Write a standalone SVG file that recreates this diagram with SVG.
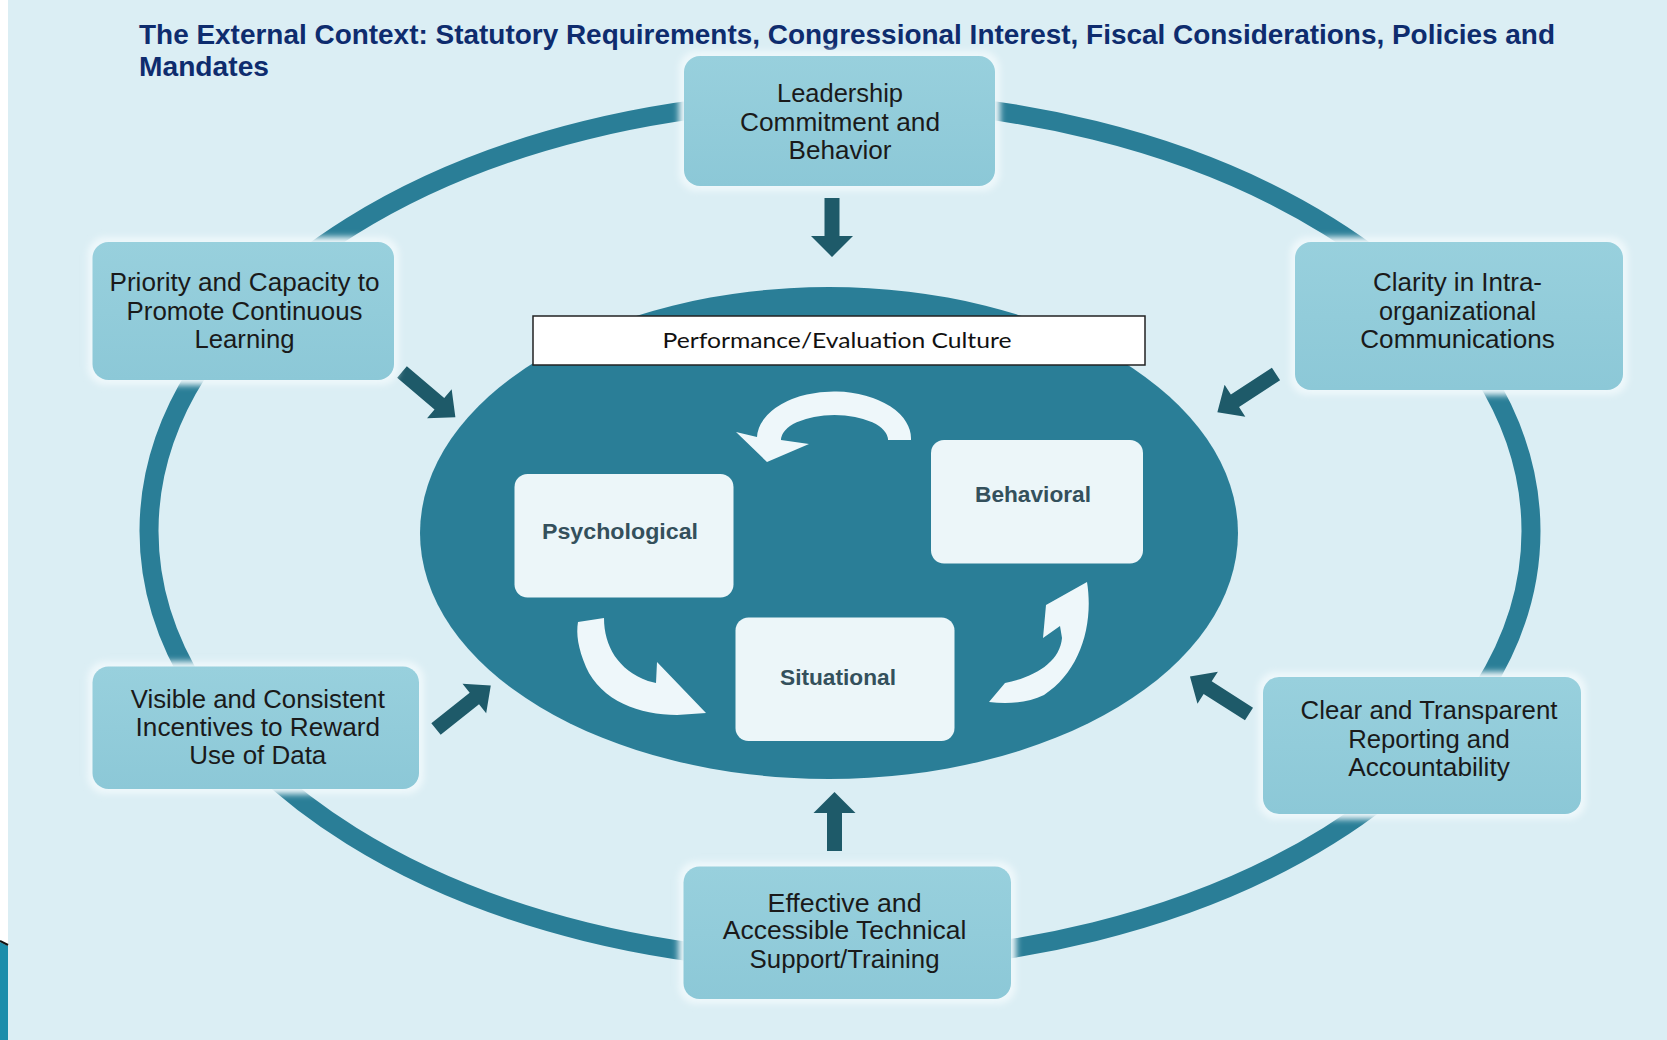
<svg xmlns="http://www.w3.org/2000/svg" width="1667" height="1040" viewBox="0 0 1667 1040">
  <style>
    .title { font-family: "Liberation Sans", Arial, sans-serif; font-weight: bold; font-size: 27px; fill: #0e2c6e; }
    .lbl { font-family: "Liberation Sans", Arial, sans-serif; font-size: 25px; fill: #1a1a1a; text-anchor: middle; }
    .inner { font-family: "Liberation Sans", Arial, sans-serif; font-weight: bold; font-size: 22px; fill: #34505c; text-anchor: middle; }
    .culture { font-family: Lato, "Open Sans", sans-serif; font-size: 22px; fill: #111; text-anchor: middle; }
    .box { fill: url(#boxfill); }
    .halo { fill: #eef8fb; filter: url(#soft); }
    .ibox { fill: #ecf6f9; }
    .blk { fill: #1e5a69; }
    .curl { fill: #eef7fa; }
  </style>
  <defs>
    <linearGradient id="boxfill" x1="0" y1="0" x2="0" y2="1">
      <stop offset="0" stop-color="#98d0dd"/>
      <stop offset="1" stop-color="#8cc8d7"/>
    </linearGradient>
    <filter id="soft" x="-10%" y="-10%" width="120%" height="120%">
      <feGaussianBlur stdDeviation="3"/>
    </filter>
    <!-- straight block arrow pointing along +x, vertical version -->
    <path id="arrV" d="M0,-7.5 H38 V-21 L59,0 L38,21 V7.5 H0 Z"/>
    <!-- diagonal block arrow pointing along +x -->
    <path id="arrD" d="M0,-7.5 H49 V-19 L70,0 L49,19 V7.5 H0 Z"/>
  </defs>

  <!-- page -->
  <rect x="0" y="0" width="1667" height="1040" fill="#ffffff"/>
  <rect x="8" y="0" width="1659" height="1040" fill="#dbeef4"/>
  <polygon points="0,942 8,946 8,1040 0,1040" fill="#1b8dab"/>
  <line x1="0" y1="941" x2="8" y2="945" stroke="#111" stroke-width="2"/>

  <!-- title -->
  <text class="title" x="139" y="44" textLength="1416" lengthAdjust="spacingAndGlyphs">The External Context: Statutory Requirements, Congressional Interest, Fiscal Considerations, Policies and</text>
  <text class="title" x="139" y="76" textLength="130" lengthAdjust="spacingAndGlyphs">Mandates</text>

  <!-- outer ring and inner field -->
  <ellipse cx="840" cy="531" rx="691" ry="431" fill="none" stroke="#2a7e97" stroke-width="19"/>
  <ellipse cx="829" cy="533" rx="409" ry="246" fill="#2a7e97"/>

  <g id="connectors">
    <use href="#arrV" class="blk" transform="translate(832,198) rotate(90)"/>
    <use href="#arrV" class="blk" transform="translate(834.5,851) rotate(-90)"/>
    <use href="#arrD" class="blk" transform="translate(402,372) rotate(40.3)"/>
    <use href="#arrD" class="blk" transform="translate(1276,374) rotate(146.9)"/>
    <use href="#arrD" class="blk" transform="translate(436,729) rotate(-38.5)"/>
    <use href="#arrD" class="blk" transform="translate(1249,714) rotate(-147.5)"/>
    <!-- cycle arrows inside the culture field -->
    <path class="curl" d="M911,440 A77,47 0 0 0 757,437 L736,432 L767,462 L809,444 L781,440 A53.5,25 0 0 1 888,440 Z"/>
    <path class="curl" d="M578,622 L604,618 C604,646 618,670 648,681 L656,683 L657,662 L706,713 L677,715 C640,715 601,701 586,667 C578,648 576,634 578,622 Z"/>
    <path class="curl" d="M989,702 L1005,683 C1035,677 1060,662 1062,638 L1060,626 L1043,638 L1046,605 L1087,582 C1094,625 1080,672 1044,695 C1028,703 1008,704 989,702 Z"/>
  </g>

  <g id="culture">
    <rect x="533" y="316" width="612" height="49" fill="#ffffff" stroke="#222" stroke-width="1.5"/>
    <text class="culture" x="837" y="348" textLength="349" lengthAdjust="spacingAndGlyphs">Performance/Evaluation Culture</text>
  </g>

  <g id="psychological">
    <rect class="ibox" x="514.5" y="474" width="219" height="123.5" rx="13"/>
    <text class="inner" x="620" y="538.5" textLength="156" lengthAdjust="spacingAndGlyphs">Psychological</text>
  </g>
  <g id="behavioral">
    <rect class="ibox" x="931" y="440" width="212" height="123.5" rx="13"/>
    <text class="inner" x="1033" y="502" textLength="116" lengthAdjust="spacingAndGlyphs">Behavioral</text>
  </g>
  <g id="situational">
    <rect class="ibox" x="735.5" y="617.5" width="219" height="123.5" rx="13"/>
    <text class="inner" x="838" y="685" textLength="116" lengthAdjust="spacingAndGlyphs">Situational</text>
  </g>

  <g id="leadership">
    <rect class="halo" x="679" y="51" width="321" height="140" rx="18"/>
    <rect class="box" x="684" y="56" width="311" height="130" rx="16"/>
    <text class="lbl" x="840" y="102" textLength="126" lengthAdjust="spacingAndGlyphs">Leadership</text>
    <text class="lbl" x="840" y="130.5" textLength="200" lengthAdjust="spacingAndGlyphs">Commitment and</text>
    <text class="lbl" x="840" y="159" textLength="103" lengthAdjust="spacingAndGlyphs">Behavior</text>
  </g>

  <g id="priority">
    <rect class="halo" x="87.5" y="237" width="311.5" height="148" rx="18"/>
    <rect class="box" x="92.5" y="242" width="301.5" height="138" rx="16"/>
    <text class="lbl" x="244.5" y="291" textLength="270" lengthAdjust="spacingAndGlyphs">Priority and Capacity to</text>
    <text class="lbl" x="244.5" y="319.5" textLength="236" lengthAdjust="spacingAndGlyphs">Promote Continuous</text>
    <text class="lbl" x="244.5" y="348" textLength="100" lengthAdjust="spacingAndGlyphs">Learning</text>
  </g>

  <g id="clarity">
    <rect class="halo" x="1290" y="237" width="338" height="158" rx="18"/>
    <rect class="box" x="1295" y="242" width="328" height="148" rx="16"/>
    <text class="lbl" x="1457.5" y="291" textLength="169" lengthAdjust="spacingAndGlyphs">Clarity in Intra-</text>
    <text class="lbl" x="1457.5" y="319.5" textLength="157" lengthAdjust="spacingAndGlyphs">organizational</text>
    <text class="lbl" x="1457.5" y="348" textLength="194.5" lengthAdjust="spacingAndGlyphs">Communications</text>
  </g>

  <g id="incentives">
    <rect class="halo" x="87.5" y="661.5" width="336.5" height="132.5" rx="18"/>
    <rect class="box" x="92.5" y="666.5" width="326.5" height="122.5" rx="16"/>
    <text class="lbl" x="257.8" y="707.5" textLength="254" lengthAdjust="spacingAndGlyphs">Visible and Consistent</text>
    <text class="lbl" x="257.8" y="736" textLength="244.5" lengthAdjust="spacingAndGlyphs">Incentives to Reward</text>
    <text class="lbl" x="257.8" y="764" textLength="137" lengthAdjust="spacingAndGlyphs">Use of Data</text>
  </g>

  <g id="reporting">
    <rect class="halo" x="1258" y="672" width="328" height="147" rx="18"/>
    <rect class="box" x="1263" y="677" width="318" height="137" rx="16"/>
    <text class="lbl" x="1429" y="719" textLength="257" lengthAdjust="spacingAndGlyphs">Clear and Transparent</text>
    <text class="lbl" x="1429" y="748" textLength="161.6" lengthAdjust="spacingAndGlyphs">Reporting and</text>
    <text class="lbl" x="1429" y="775.5" textLength="161.6" lengthAdjust="spacingAndGlyphs">Accountability</text>
  </g>

  <g id="support">
    <rect class="halo" x="678.5" y="861.5" width="337.5" height="142.5" rx="18"/>
    <rect class="box" x="683.5" y="866.5" width="327.5" height="132.5" rx="16"/>
    <text class="lbl" x="844.6" y="911.5" textLength="154" lengthAdjust="spacingAndGlyphs">Effective and</text>
    <text class="lbl" x="844.6" y="939" textLength="243.5" lengthAdjust="spacingAndGlyphs">Accessible Technical</text>
    <text class="lbl" x="844.6" y="968" textLength="190" lengthAdjust="spacingAndGlyphs">Support/Training</text>
  </g>
</svg>
